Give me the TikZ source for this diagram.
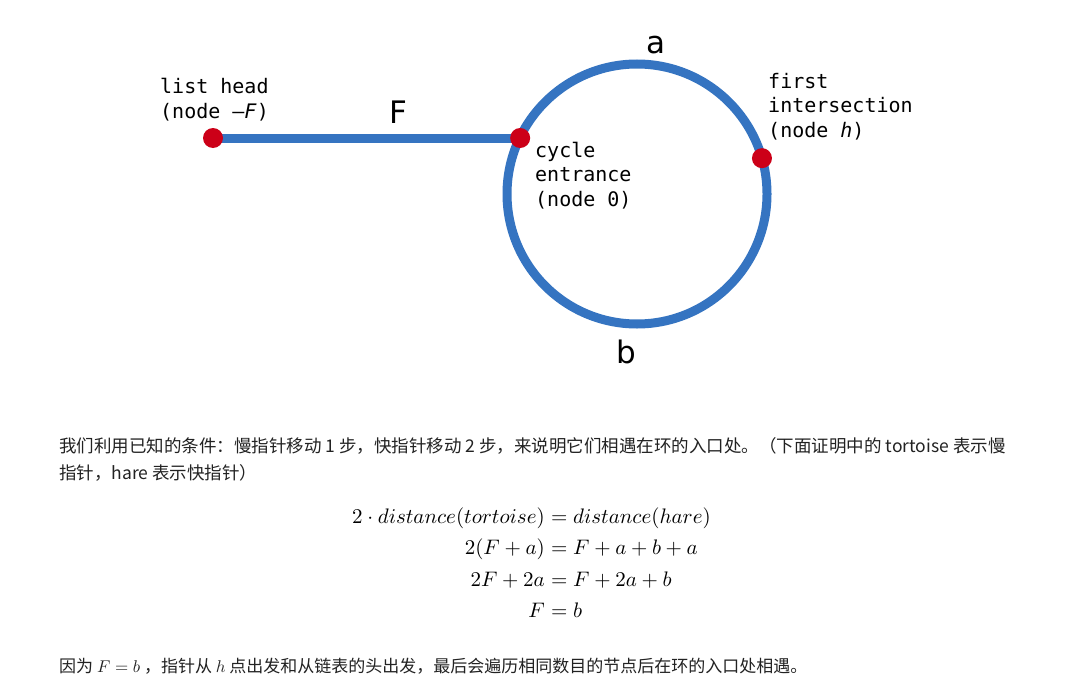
\documentclass[tikz,border=0pt]{standalone}
\usepackage{amsmath}
\usepackage{graphicx}
\usepackage{fontspec}
\newfontfamily\cjk{Noto Sans CJK SC}
\newfontfamily\mono{DejaVu Sans Mono}
\newfontfamily\labfont{DejaVu Sans}
\definecolor{trackblue}{HTML}{3574C1}
\definecolor{dotred}{HTML}{CC0018}
\definecolor{textgray}{HTML}{222222}
\newcommand{\eqm}[1]{\scalebox{2.1}{\fontsize{10}{12}\selectfont$#1$}}
\newcommand{\txm}[1]{\scalebox{1.7}{\fontsize{10}{12}\selectfont$#1$}}
\tikzset{
  track/.style={draw=trackblue, line width=9pt},
  dot/.style={circle, fill=dotred, inner sep=0pt, minimum size=20pt},
  mlabel/.style={font=\mono\fontsize{20}{24.5}\selectfont, align=left, anchor=base west, inner sep=0pt},
  biglabel/.style={font=\labfont\fontsize{31}{36}\selectfont, inner sep=0pt, anchor=base},
  cjktext/.style={font=\cjk\fontsize{17.5}{28}\selectfont, text=textgray, anchor=base west, inner sep=0pt},
  cjksmall/.style={font=\cjk\fontsize{17}{28}\selectfont, text=textgray, anchor=base west, inner sep=0pt},
  eqleft/.style={inner sep=0pt, anchor=base east},
  eqright/.style={inner sep=0pt, anchor=base west}
}
\begin{document}
\begin{tikzpicture}[x=1pt,y=-1pt]
\useasboundingbox[fill=white] (0,0) rectangle (1076,685);
% cycle
\node[circle, track, minimum size=260pt, inner sep=0pt, outer sep=0pt] (cyc) at (637,194) {};
\coordinate (headpt) at (213,138);
\coordinate (cycpt) at (cyc.154.5);
\coordinate (entrpt) at (headpt -| cycpt);
\draw[track] (headpt) -- (entrpt);
\node[dot] (head) at (headpt) {};
\node[dot] (entr) at (entrpt) {};
\node[dot] (inter) at (cyc.16.6) {};
% big labels
\node[biglabel] (la) at (656,53) {a};
\node[biglabel] (lF) at (398,123) {F};
\node[biglabel] (lb) at (626,363) {b};
% mono labels (base anchor = last line baseline)
\node[mlabel] (headlab) at (160,118) {list head\\(node –\textit{F})};
\node[mlabel] (interlab) at (768,137) {first\\intersection\\(node \textit{h})};
\node[mlabel] (entrlab) at (535,206) {cycle\\entrance\\(node 0)};
% text
\node[cjktext] (t1) at (59,452) {我们利用已知的条件：慢指针移动 1 步，快指针移动 2 步，来说明它们相遇在环的入口处。（下面证明中的 tortoise 表示慢};
\node[cjktext] (t2) at (59,479) {指针，hare 表示快指针）};
% equations
\node[eqleft] (e1l) at (545,523) {\eqm{2\cdot distance(tortoise)}};
\node[eqright] (e1r) at (545,523) {\eqm{{}= distance(hare)}};
\node[eqleft] (e2l) at (545,554) {\eqm{2(F+a)}};
\node[eqright] (e2r) at (545,554) {\eqm{{}=F+a+b+a}};
\node[eqleft] (e3l) at (545,586) {\eqm{2F+2a}};
\node[eqright] (e3r) at (545,586) {\eqm{{}=F+2a+b}};
\node[eqleft] (e4l) at (545,617) {\eqm{F}};
\node[eqright] (e4r) at (545,617) {\eqm{{}=b}};
\node[cjksmall] (t3) at (59,672) {因为 \txm{F=b} ，指针从 \txm{h} 点出发和从链表的头出发，最后会遍历相同数目的节点后在环的入口处相遇。};
\end{tikzpicture}
\end{document}
